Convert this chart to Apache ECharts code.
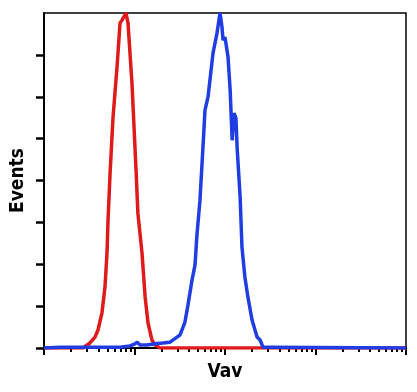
<!DOCTYPE html>
<html>
<head>
<meta charset="utf-8">
<script src="https://cdn.jsdelivr.net/npm/echarts@6/dist/echarts.min.js"></script>
<style>
html,body{margin:0;padding:0;background:#fff;}
#chart{width:417px;height:392px;}
</style>
</head>
<body>
<div id="chart"></div>
<script>
// Red histogram (isotype/control): [fluorescence, events]
const redX = [1, 2.70, 2.84, 3.22, 3.66, 3.95, 4.37, 4.72, 4.97, 5.10, 5.36, 5.79, 6.41, 6.92, 7.28, 8.05, 8.48, 9.38, 10.4, 10.9, 12.1, 13.1, 14.1, 15.6, 16.9, 19.1, 10000];
const redY = [0, 0, 0.02, 0.12, 0.26, 0.43, 0.84, 1.46, 2.27, 3.05, 4.13, 5.51, 6.71, 7.76, 7.83, 8.0, 7.76, 6.32, 4.25, 3.22, 2.27, 1.22, 0.60, 0.19, 0.07, 0, 0];
// Blue histogram (Vav)
const blueX = [1, 1.50, 2.50, 4.16, 6.92, 8.92, 10.1, 10.7, 11.5, 13.7, 16.9, 20.6, 24.7, 29.5, 31.8, 34.4, 36.1, 39.0, 43.2, 46.6, 49.0, 52.9, 57.1, 60.1, 64.9, 73.7, 81.6, 88.1, 92.7, 95.1, 100, 105, 108, 114, 120, 126, 132, 136, 147, 154, 166, 179, 199, 226, 244, 263, 314, 10000];
const blueY = [0, 0.02, 0.02, 0.02, 0.02, 0.05, 0.10, 0.14, 0.07, 0.07, 0.10, 0.12, 0.14, 0.26, 0.31, 0.50, 0.62, 1.03, 1.62, 1.98, 2.70, 3.53, 4.80, 5.68, 5.99, 7.04, 7.52, 8.0, 7.66, 7.35, 7.42, 7.40, 6.95, 6.16, 4.96, 5.61, 5.49, 4.80, 3.60, 2.41, 1.69, 1.22, 0.67, 0.26, 0.19, 0.02, 0.02, 0];
// Axis ticks
const xMajorTicks = [1, 10, 100, 1000, 10000];
const xMinorTicks = [2,3,4,5,6,7,8,9,20,30,40,50,60,70,80,90,200,300,400,500,600,700,800,900,2000,3000,4000,5000,6000,7000,8000,9000];
const yTicks = [0, 1, 2, 3, 4, 5, 6, 7];
const xName = 'Vav';
const yName = 'Events';

const pair = (xs, ys) => xs.map((x, i) => [x, ys[i]]);
const font = '"DejaVu Sans Condensed", "Liberation Sans Narrow", sans-serif';

const chart = echarts.init(document.getElementById('chart'), null, {renderer: 'canvas'});
chart.setOption({
  animation: false,
  backgroundColor: '#fff',
  grid: {left: 44, right: 11, top: 13, bottom: 44, show: true, borderColor: '#000', borderWidth: 1.5, backgroundColor: 'transparent'},
  xAxis: [
    {
      type: 'log', logBase: 10, min: 1, max: 10000, position: 'bottom',
      name: xName, nameLocation: 'middle', nameGap: 15,
      nameTextStyle: {fontFamily: font, fontWeight: 'bold', fontSize: 19, color: '#000'},
      axisLine: {show: true, lineStyle: {color: '#000', width: 2}},
      axisTick: {show: true, inside: false, length: 7, lineStyle: {color: '#000', width: 2}, customValues: xMajorTicks},
      axisLabel: {show: false},
      splitLine: {show: false}
    },
    {
      type: 'log', logBase: 10, min: 1, max: 10000, position: 'bottom', offset: 0,
      axisLine: {show: false},
      axisTick: {show: true, inside: false, length: 4, lineStyle: {color: '#000', width: 2}, customValues: xMinorTicks},
      axisLabel: {show: false},
      splitLine: {show: false}
    }
  ],
  yAxis: {
    type: 'value', min: 0, max: 8, interval: 1,
    name: yName, nameLocation: 'middle', nameGap: 16, nameRotate: 90,
    nameTextStyle: {fontFamily: font, fontWeight: 'bold', fontSize: 19, color: '#000'},
    axisLine: {show: true, lineStyle: {color: '#000', width: 2}},
    axisTick: {show: true, inside: false, length: 8, lineStyle: {color: '#000', width: 2.5}, customValues: yTicks},
    axisLabel: {show: false},
    splitLine: {show: false}
  },
  series: [
    {
      type: 'line', data: pair(redX, redY), showSymbol: false, symbol: 'none',
      lineStyle: {color: '#de1a1a', width: 3.5}, z: 2
    },
    {
      type: 'line', data: pair(blueX, blueY), showSymbol: false, symbol: 'none',
      lineStyle: {color: '#1f3de3', width: 3.5}, z: 3
    }
  ]
});
</script>
</body>
</html>
